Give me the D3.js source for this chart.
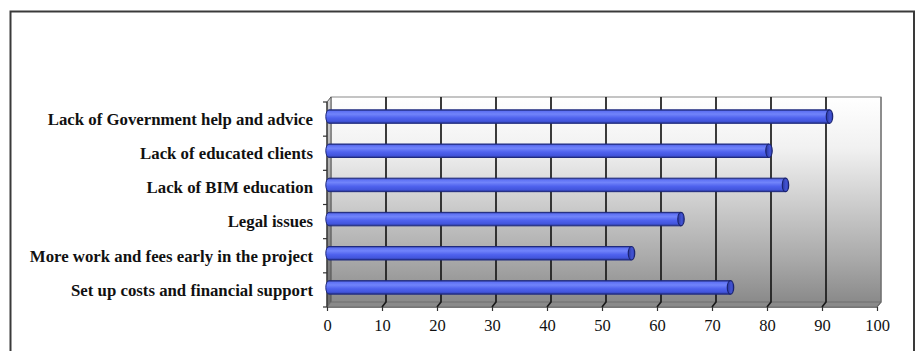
<!DOCTYPE html>
<html>
<head>
<meta charset="utf-8">
<script src="https://cdn.jsdelivr.net/npm/d3@7"></script>
<style>
  body { margin: 0; background: #fff; }
  svg { display: block; }
</style>
</head>
<body>
<svg id="chart" width="917" height="351"></svg>
<script>
// Survey data: barriers to BIM adoption (% of respondents)
const categories = [
  "Lack of Government help and advice",
  "Lack of educated clients",
  "Lack of BIM education",
  "Legal issues",
  "More work and fees early in the project",
  "Set up costs and financial support"
];
const values = [91, 80, 83, 64, 55, 73];
const xTicks = [0, 10, 20, 30, 40, 50, 60, 70, 80, 90, 100];

const svg = d3.select("#chart");
const defs = svg.append("defs");

// front plane of the 3D plot and the depth offset of the back wall
const front = { left: 327, right: 877, top: 102, bottom: 307 };
const depth = { dx: 4, dy: -5 };

const x = d3.scaleLinear().domain([0, 100]).range([front.left, front.right]);
const y = d3.scaleBand().domain(categories).range([front.top, front.bottom]).paddingInner(0);

// outer frame (runs off the bottom edge)
svg.append("rect")
  .attr("x", 10.5).attr("y", 11.5)
  .attr("width", 903.5).attr("height", 360)
  .attr("fill", "none").attr("stroke", "#3a3a3a").attr("stroke-width", 2);

// gradients
const wallGrad = defs.append("linearGradient").attr("id", "wall")
  .attr("x1", 0).attr("y1", 0).attr("x2", 0).attr("y2", 1);
[[0, "#ffffff"], [0.25, "#f1f1f1"], [0.55, "#c9c9c9"], [0.8, "#a8a8a8"], [1, "#8a8a8a"]]
  .forEach(([o, c]) => wallGrad.append("stop").attr("offset", o).attr("stop-color", c));

const sideGrad = defs.append("linearGradient").attr("id", "side")
  .attr("x1", 0).attr("y1", 0).attr("x2", 0).attr("y2", 1);
[[0, "#d8d8d8"], [0.5, "#9a9a9a"], [1, "#6a6a6a"]]
  .forEach(([o, c]) => sideGrad.append("stop").attr("offset", o).attr("stop-color", c));

const barGrad = defs.append("linearGradient").attr("id", "cyl")
  .attr("x1", 0).attr("y1", 0).attr("x2", 0).attr("y2", 1);
[[0, "#25308a"], [0.12, "#5f72f4"], [0.32, "#7184fa"], [0.6, "#4f62ee"], [0.85, "#4255dc"], [1, "#25308a"]]
  .forEach(([o, c]) => barGrad.append("stop").attr("offset", o).attr("stop-color", c));

const capGrad = defs.append("linearGradient").attr("id", "cap")
  .attr("x1", 0).attr("y1", 0).attr("x2", 1).attr("y2", 0);
[[0, "#2a37a0"], [0.6, "#4354d4"], [1, "#3040b4"]]
  .forEach(([o, c]) => capGrad.append("stop").attr("offset", o).attr("stop-color", c));

const bx = v => x(v) + depth.dx;
const backTop = front.top + depth.dy;
const backBottom = front.bottom + depth.dy;

// back wall
svg.append("rect")
  .attr("x", bx(0)).attr("y", backTop)
  .attr("width", bx(100) - bx(0)).attr("height", backBottom - backTop)
  .attr("fill", "url(#wall)").attr("stroke", "#8a8a8a").attr("stroke-width", 1);

// left side wall
svg.append("path")
  .attr("d", `M${x(0)},${front.top} L${bx(0)},${backTop} L${bx(0)},${backBottom} L${x(0)},${front.bottom} Z`)
  .attr("fill", "url(#side)").attr("stroke", "#555").attr("stroke-width", 1);

// floor
svg.append("path")
  .attr("d", `M${x(0)},${front.bottom} L${x(100)},${front.bottom} L${bx(100)},${backBottom} L${bx(0)},${backBottom} Z`)
  .attr("fill", "#8a8a8a").attr("stroke", "#6e6e6e").attr("stroke-width", 1);

// vertical gridlines on the back wall, continued across the floor
const grid = svg.append("g").attr("fill", "none").attr("stroke", "#1a1a1a").attr("stroke-width", 1.7);
xTicks.filter(t => t > 0 && t < 100).forEach(t => {
  grid.append("path")
    .attr("d", `M${bx(t)},${backTop} L${bx(t)},${backBottom} L${x(t)},${front.bottom}`);
});
// right edge of the wall
grid.append("path")
  .attr("d", `M${bx(100)},${backTop} L${bx(100)},${backBottom} L${x(100)},${front.bottom}`)
  .attr("stroke", "#6a6a6a").attr("stroke-width", 1.2);

// x axis along the front edge of the floor
const xAxis = svg.append("g")
  .attr("transform", `translate(0,${front.bottom})`)
  .call(d3.axisBottom(x).tickValues(xTicks).tickSize(4).tickPadding(8));
xAxis.select(".domain").attr("stroke", "#777").attr("stroke-width", 1);
xAxis.selectAll(".tick line").attr("stroke", "#333").attr("stroke-width", 1.2);
xAxis.selectAll(".tick text")
  .attr("fill", "#111")
  .style("font-family", "'Liberation Serif', 'Times New Roman', serif")
  .style("font-size", "16.5px");

// y axis: line with ticks at the category boundaries
const yAxis = svg.append("g").attr("stroke", "#333").attr("stroke-width", 1.2);
yAxis.append("line")
  .attr("x1", x(0)).attr("x2", x(0))
  .attr("y1", front.top).attr("y2", front.bottom);
const bounds = categories.map(c => y(c)).concat([y(categories[categories.length - 1]) + y.bandwidth()]);
yAxis.selectAll("line.tk").data(bounds).join("line").attr("class", "tk")
  .attr("x1", x(0) - 4).attr("x2", x(0))
  .attr("y1", d => d).attr("y2", d => d);

// category labels
svg.append("g").selectAll("text").data(categories).join("text")
  .attr("x", 313)
  .attr("y", d => y(d) + y.bandwidth() / 2)
  .attr("dy", "0.35em")
  .attr("text-anchor", "end")
  .attr("fill", "#111")
  .style("font-family", "'Liberation Serif', 'Times New Roman', serif")
  .style("font-weight", "bold")
  .style("font-size", "16.8px")
  .text(d => d);

// cylinder bars
const barH = 13.5;
const rx = 3.2;
const bars = svg.append("g");
categories.forEach((c, i) => {
  const cy = y(c) + y.bandwidth() / 2 + depth.dy / 2;
  const x0 = x(0) + depth.dx / 2;
  const x1 = x(values[i]) + depth.dx / 2;
  const top = cy - barH / 2, bot = cy + barH / 2;
  bars.append("path")
    .attr("d", `M${x1},${top} L${x0},${top} A${rx},${barH / 2} 0 0 0 ${x0},${bot} L${x1},${bot} Z`)
    .attr("fill", "url(#cyl)")
    .attr("stroke", "#1f2a7e").attr("stroke-width", 1);
  bars.append("ellipse")
    .attr("cx", x1).attr("cy", cy)
    .attr("rx", rx).attr("ry", barH / 2)
    .attr("fill", "url(#cap)")
    .attr("stroke", "#1a2370").attr("stroke-width", 1.2);
});
</script>
</body>
</html>
